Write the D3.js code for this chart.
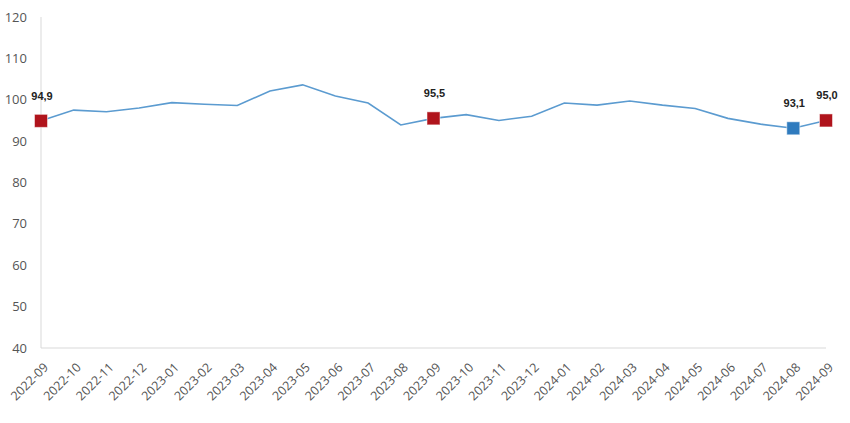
<!DOCTYPE html>
<html>
<head>
<meta charset="utf-8">
<script src="https://cdn.jsdelivr.net/npm/d3@7"></script>
<style>
  body { margin: 0; background: #fff; }
  svg { display: block; font-family: "Open Sans", "Noto Sans", sans-serif; }
</style>
</head>
<body>
<svg id="chart" width="850" height="423"></svg>
<script>
// monthly index values
var months = ["2022-09","2022-10","2022-11","2022-12","2023-01","2023-02","2023-03","2023-04",
  "2023-05","2023-06","2023-07","2023-08","2023-09","2023-10","2023-11","2023-12",
  "2024-01","2024-02","2024-03","2024-04","2024-05","2024-06","2024-07","2024-08","2024-09"];
var values = [94.9, 97.5, 97.1, 98.0, 99.3, 98.9, 98.6, 102.1, 103.6, 100.9, 99.2, 93.9,
  95.5, 96.4, 95.0, 96.0, 99.2, 98.7, 99.7, 98.7, 97.9, 95.5, 94.1, 93.1, 95.0];
var yTicks = [40, 50, 60, 70, 80, 90, 100, 110, 120];
// highlighted points: index, colour
var highlights = [
  { i: 0, color: "#B0141C" },
  { i: 12, color: "#B0141C" },
  { i: 23, color: "#2F7BBE" },
  { i: 24, color: "#B0141C" }
];

var svg = d3.select("#chart");
var margin = {top: 17, right: 24, bottom: 75, left: 41};
var width = 850 - margin.left - margin.right;
var height = 423 - margin.top - margin.bottom;

var x = d3.scalePoint().domain(months).range([0, width]);
var y = d3.scaleLinear().domain([40, 120]).range([height, 0]);

var g = svg.append("g")
  .attr("transform", "translate(" + margin.left + "," + margin.top + ")");

// axis lines
g.append("line")
  .attr("x1", 0).attr("x2", 0).attr("y1", 0).attr("y2", height)
  .attr("stroke", "#d9d9d9").attr("stroke-width", 1);
g.append("line")
  .attr("x1", 0).attr("x2", width).attr("y1", height).attr("y2", height)
  .attr("stroke", "#d9d9d9").attr("stroke-width", 1);

// y tick labels
g.selectAll(".ylab")
  .data(yTicks)
  .enter().append("text")
  .attr("class", "ylab")
  .attr("x", -14)
  .attr("y", function(d) { return y(d); })
  .attr("dy", "0.35em")
  .attr("text-anchor", "end")
  .attr("fill", "#555")
  .style("font-size", "13px")
  .text(function(d) { return d; });

// x tick labels, rotated
g.selectAll(".xlab")
  .data(months)
  .enter().append("text")
  .attr("class", "xlab")
  .attr("transform", function(d) {
    return "translate(" + (x(d) + 5) + "," + (height + 17) + ") rotate(-45)";
  })
  .attr("text-anchor", "end")
  .attr("dy", "0.35em")
  .attr("fill", "#555")
  .style("font-size", "12.5px")
  .text(function(d) { return d; });

// the line
var line = d3.line()
  .x(function(d, i) { return x(months[i]); })
  .y(function(d) { return y(d); });

g.append("path")
  .attr("d", line(values))
  .attr("fill", "none")
  .attr("stroke", "#5B9BD0")
  .attr("stroke-width", 1.6);

// markers
var s = 13;
g.selectAll(".mark")
  .data(highlights)
  .enter().append("rect")
  .attr("class", "mark")
  .attr("x", function(d) { return x(months[d.i]) - s / 2; })
  .attr("y", function(d) { return y(values[d.i]) - s / 2; })
  .attr("width", s).attr("height", s)
  .attr("fill", function(d) { return d.color; })
  .attr("stroke", "#fff").attr("stroke-opacity", 0.5).attr("stroke-width", 1);

// value labels
g.selectAll(".vlab")
  .data(highlights)
  .enter().append("text")
  .attr("class", "vlab")
  .attr("x", function(d) { return x(months[d.i]) + 1; })
  .attr("y", function(d) { return y(values[d.i]) - 21; })
  .attr("text-anchor", "middle")
  .attr("fill", "#222")
  .style("font-family", "'Liberation Sans', Arial, sans-serif")
  .style("font-weight", "bold")
  .style("font-size", "11px")
  .text(function(d) { return values[d.i].toFixed(1).replace(".", ","); });
</script>
</body>
</html>
